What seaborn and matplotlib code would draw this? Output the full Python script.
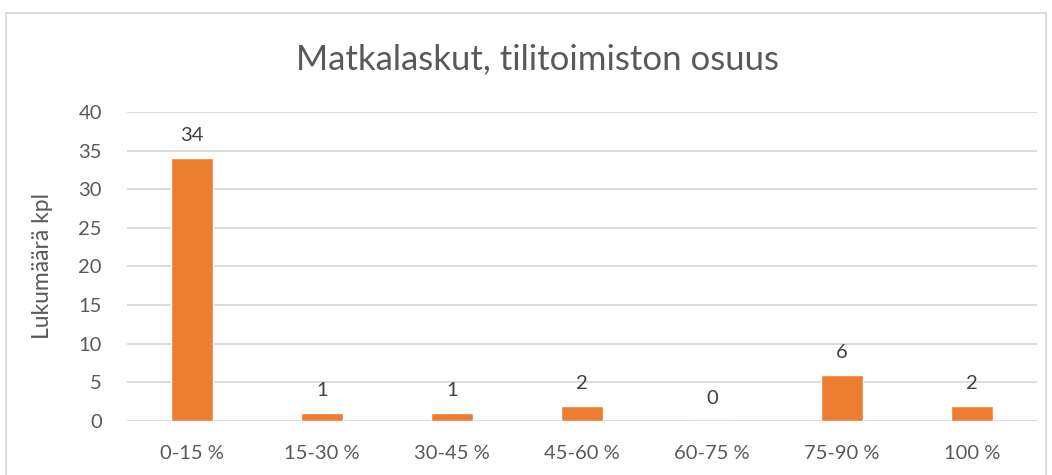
import pandas as pd
import seaborn as sns
import matplotlib.pyplot as plt
from matplotlib.patches import Rectangle

categories = ["0-15 %", "15-30 %", "30-45 %", "45-60 %", "60-75 %", "75-90 %", "100 %"]
counts = [34, 1, 1, 2, 0, 6, 2]
y_ticks = [0, 5, 10, 15, 20, 25, 30, 35, 40]

sns.set_theme(style="white")
plt.rcParams['font.family'] = ['Lato', 'DejaVu Sans']
text_color = "#595959"
bar_color = "#ED7D31"
grid_color = "#D9D9D9"

df = pd.DataFrame({"cat": categories, "n": counts})

fig = plt.figure(figsize=(10.52, 4.75), dpi=100)
ax = fig.add_axes([0.1207, 0.1137, 0.8650, 0.6505])

sns.barplot(data=df, x="cat", y="n", color=bar_color, width=0.32,
            saturation=1, ax=ax)

ax.set_ylim(0, 40)
ax.set_yticks(y_ticks)
ax.set_xlim(-0.5, len(categories) - 0.5)
for y in y_ticks:
    ax.axhline(y, color=grid_color, lw=1.3, zorder=0)
for s in ax.spines.values():
    s.set_visible(False)

ax.tick_params(axis="both", colors=text_color, labelsize=14.5, length=0)
ax.tick_params(axis="x", pad=17)
ax.tick_params(axis="y", pad=18)
ax.set_xlabel("")
ax.set_ylabel("Lukumäärä kpl", color=text_color, fontsize=16.5, labelpad=18)

for i, v in enumerate(counts):
    ax.annotate(str(v), (i, v), xytext=(0, 10), textcoords="offset points",
                ha="center", va="bottom", color="#404040", fontsize=14.5)

fig.text(0.511, 0.875, "Matkalaskut, tilitoimiston osuus", ha="center",
         va="center", color=text_color, fontsize=25)

fig.patches.append(Rectangle((6 / 1052, -0.05), 1040 / 1052, 1 - 13 / 475 + 0.05,
                             transform=fig.transFigure, fill=False,
                             edgecolor="#D9D9D9", lw=1.3))

fig.savefig("out.png", dpi=100)
